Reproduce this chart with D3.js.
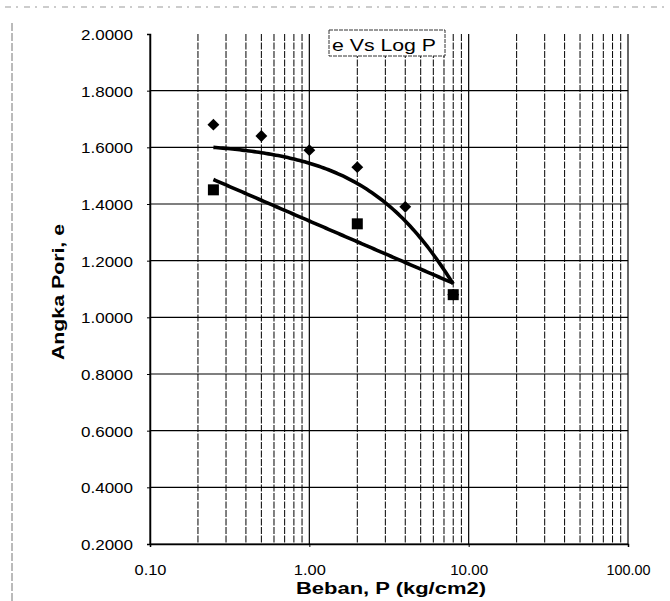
<!DOCTYPE html>
<html><head><meta charset="utf-8">
<script src="https://cdn.jsdelivr.net/npm/d3@7"></script>
<style>body{margin:0;background:#fff}svg{display:block}text{font-family:"Liberation Sans",Arial,sans-serif;fill:#000}</style>
</head><body><svg id="c" width="670" height="601"></svg>
<script>
// ---- data ----
const loadP = [0.25, 0.5, 1, 2, 4, 8];
const loadE = [1.68, 1.64, 1.59, 1.53, 1.39, 1.08];
const unloadP = [8, 2, 0.25];
const unloadE = [1.08, 1.33, 1.45];
// trendlines: loading polynomial in P (e = a + b*P + c*P^2), unloading logarithmic (e = a + b*ln P)
const loadTrend = [1.6191, -0.07692, 0.001785];
const unloadTrend = [1.340, -0.1056];
const trendRange = [0.25, 8];
const yTicks = [0.2, 0.4, 0.6, 0.8, 1.0, 1.2, 1.4, 1.6, 1.8, 2.0];
const xTicks = [0.1, 1, 10, 100];
const title = "e Vs Log P";
const xTitle = "Beban, P (kg/cm2)";
const yTitle = "Angka Pori, e";

const svg = d3.select("#c");
const L = 150, R = 628, T = 34, B = 544;
const x = d3.scaleLog().domain([0.1, 100]).range([L, R]);
const y = d3.scaleLinear().domain([0.2, 2.0]).range([B, T]);

// outer (scanned) chart border
svg.append("line").attr("x1", 5).attr("x2", 665).attr("y1", 7).attr("y2", 7)
  .attr("stroke", "#999").attr("stroke-dasharray", "6,5,2,6");
svg.append("line").attr("x1", 12).attr("x2", 12).attr("y1", 23).attr("y2", 601)
  .attr("stroke", "#777").attr("stroke-dasharray", "8,2");

// vertical gridlines (majors + minors)
const minors = [];
for (let d = 0.1; d < 100; d *= 10) for (let k = 2; k <= 9; k++) minors.push(+(d * k).toPrecision(3));
const g = svg.append("g");
g.selectAll(".vmin").data(minors).join("line")
  .attr("x1", d => x(d)).attr("x2", d => x(d)).attr("y1", T).attr("y2", B)
  .attr("stroke", "#000").attr("stroke-width", 1).attr("stroke-dasharray", "7,1.5");
g.selectAll(".vmaj").data(xTicks).join("line")
  .attr("x1", d => x(d)).attr("x2", d => x(d)).attr("y1", T).attr("y2", B)
  .attr("stroke", "#000").attr("stroke-width", 1.2);
g.selectAll(".hg").data(yTicks.filter(v => v < 2)).join("line")
  .attr("x1", L).attr("x2", R).attr("y1", d => y(d)).attr("y2", d => y(d))
  .attr("stroke", "#000").attr("stroke-width", 1.1);

// axes
const yAxis = svg.append("g").attr("transform", `translate(${L},0)`)
  .call(d3.axisLeft(y).tickValues(yTicks).tickSize(3).tickFormat(d3.format(".4f")));
yAxis.select(".domain").attr("stroke-width", 1.5);
yAxis.selectAll("text").attr("font-size", 15).attr("x", -17).attr("dy", "0.36em")
  .attr("textLength", 52).attr("lengthAdjust", "spacingAndGlyphs");
const xAxis = svg.append("g").attr("transform", `translate(0,${B})`)
  .call(d3.axisBottom(x).tickValues(xTicks).tickSize(3).tickFormat(d3.format(".2f")));
xAxis.select(".domain").attr("stroke-width", 1.5);
xAxis.selectAll("text").attr("font-size", 14).attr("y", 31).attr("dy", "0")
  .attr("textLength", d => d >= 100 ? 44 : d >= 10 ? 38 : 32).attr("lengthAdjust", "spacingAndGlyphs");

// trendlines
const samp = d3.range(0, 101).map(i => trendRange[0] * Math.pow(trendRange[1] / trendRange[0], i / 100));
const line = d3.line().x(d => x(d[0])).y(d => y(d[1]));
svg.append("path").datum(samp.map(p => [p, loadTrend[0] + loadTrend[1] * p + loadTrend[2] * p * p]))
  .attr("d", line).attr("fill", "none").attr("stroke", "#000").attr("stroke-width", 3.6);
svg.append("path").datum(samp.map(p => [p, unloadTrend[0] + unloadTrend[1] * Math.log(p)]))
  .attr("d", line).attr("fill", "none").attr("stroke", "#000").attr("stroke-width", 3.6);

// markers
svg.selectAll(".dia").data(loadP.map((p, i) => [p, loadE[i]])).join("path")
  .attr("d", d3.symbol(d3.symbolDiamond2, 90)())
  .attr("transform", d => `translate(${x(d[0])},${y(d[1])})`).attr("fill", "#000");
svg.selectAll(".sq").data(unloadP.map((p, i) => [p, unloadE[i]])).join("rect")
  .attr("x", d => x(d[0]) - 5.5).attr("y", d => y(d[1]) - 5.5)
  .attr("width", 11).attr("height", 11).attr("fill", "#000");

// title box
svg.append("rect").attr("x", 329).attr("y", 30).attr("width", 116).attr("height", 26)
  .attr("fill", "#fff").attr("stroke", "#333").attr("stroke-dasharray", "4,1");
svg.append("text").attr("x", 332).attr("y", 51).attr("font-size", 17)
  .attr("textLength", 104).attr("lengthAdjust", "spacingAndGlyphs").text(title);

// axis titles
svg.append("text").attr("x", 296).attr("y", 594).attr("font-size", 16).attr("font-weight", "bold")
  .attr("textLength", 190).attr("lengthAdjust", "spacingAndGlyphs").text(xTitle);
svg.append("text").attr("transform", "translate(64,292) rotate(-90)").attr("text-anchor", "middle")
  .attr("font-size", 17).attr("font-weight", "bold")
  .attr("textLength", 136).attr("lengthAdjust", "spacingAndGlyphs").text(yTitle);
</script></body></html>
